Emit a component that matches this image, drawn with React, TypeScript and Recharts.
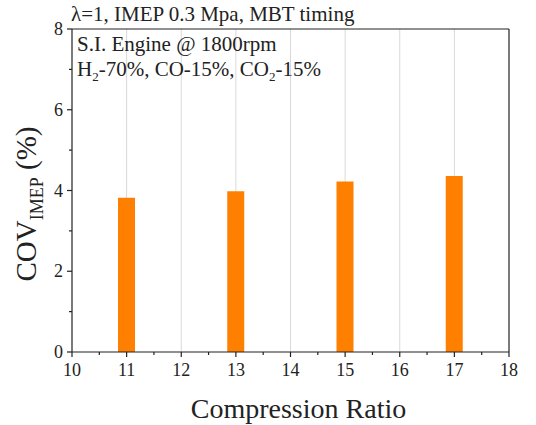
import { BarChart, Bar, XAxis, YAxis, ReferenceLine, Label, CartesianGrid } from 'recharts';

const ratios = [11, 13, 15, 17];
const covValues = [3.82, 3.98, 4.22, 4.36];
const xDomain = [10, 18];
const xTicks = [10, 10.5, 11, 11.5, 12, 12.5, 13, 13.5, 14, 14.5, 15, 15.5, 16, 16.5, 17, 17.5, 18];
const yTicks = [0, 1, 2, 3, 4, 5, 6, 7, 8];
const gridValues = [11, 12, 13, 14, 15, 16, 17];

const data = ratios.map((r, i) => ({ ratio: r, cov: covValues[i] }));

const font = 'Liberation Serif, serif';
const ink = '#222';
const txt = { fontFamily: font };

const XTick = (props: any) => {
  const { x, y, payload } = props;
  const major = Number.isInteger(payload.value);
  return (
    <g>
      <line x1={x} x2={x} y1={y} y2={y + (major ? 5 : 3)} stroke={ink} strokeWidth={1.2} />
      {major && (
        <text x={x} y={y + 24} textAnchor="middle" style={txt} fontSize={18} fill={ink}>
          {payload.value}
        </text>
      )}
    </g>
  );
};

const YTick = (props: any) => {
  const { x, y, payload } = props;
  const major = payload.value % 2 === 0;
  return (
    <g>
      <line x1={x} x2={x - (major ? 5 : 3)} y1={y} y2={y} stroke={ink} strokeWidth={1.2} />
      {major && (
        <text x={x - 9} y={y + 6} textAnchor="end" style={txt} fontSize={18} fill={ink}>
          {payload.value}
        </text>
      )}
    </g>
  );
};

const YLabel = () => (
  <text
    transform="translate(36, 204) rotate(-90)"
    textAnchor="middle"
    style={txt}
    fontSize={29}
    fill={ink}
  >
    COV
    <tspan fontSize={18} dy={7}>IMEP</tspan>
    <tspan dy={-7}> (%)</tspan>
  </text>
);

// grid only at integer ratios, drawn behind the bars
const gridX = (args: any) => {
  const { xAxis, offset } = args;
  if (xAxis && typeof xAxis.scale === 'function') return gridValues.map((g) => xAxis.scale(g));
  return gridValues.map(
    (g) => offset.left + ((g - xDomain[0]) / (xDomain[1] - xDomain[0])) * offset.width
  );
};

export default function App() {
  return (
    <div style={{ position: 'absolute', left: 0, top: 0, background: '#fff', fontFamily: font }}>
      <BarChart
        width={536}
        height={425}
        data={data}
        margin={{ top: 29, right: 27, left: 0, bottom: 0 }}
        style={txt}
      >
        <CartesianGrid horizontal={false} stroke="#d9d9d9" verticalCoordinatesGenerator={gridX} />
        <XAxis
          dataKey="ratio"
          type="number"
          domain={xDomain}
          ticks={xTicks}
          interval={0}
          tickSize={0}
          tickMargin={0}
          tickLine={false}
          tick={<XTick />}
          height={73}
          stroke={ink}
          strokeWidth={1.2}
          allowDataOverflow
        >
          <Label
            value="Compression Ratio"
            position="insideBottom"
            offset={7}
            dx={8}
            style={txt}
            fontSize={28}
            fill={ink}
          />
        </XAxis>
        <YAxis
          type="number"
          domain={[0, 8]}
          ticks={yTicks}
          interval={0}
          tickSize={0}
          tickMargin={0}
          tickLine={false}
          tick={<YTick />}
          width={72}
          stroke={ink}
          strokeWidth={1.2}
          label={<YLabel />}
        />
        <ReferenceLine y={8} stroke={ink} strokeWidth={1.2} />
        <ReferenceLine x={18} stroke={ink} strokeWidth={1.2} />
        <Bar dataKey="cov" fill="#ff8000" barSize={17} isAnimationActive={false} />
        <text x={71} y={21} style={txt} fontSize={21} fill={ink}>
          λ=1, IMEP 0.3 Mpa, MBT timing
        </text>
        <text x={77} y={51} style={txt} fontSize={21} fill={ink}>
          S.I. Engine @ 1800rpm
        </text>
        <text x={77} y={76} style={txt} fontSize={21} fill={ink}>
          H<tspan fontSize={13} dy={5}>2</tspan>
          <tspan dy={-5}>-70%, CO-15%, CO</tspan>
          <tspan fontSize={13} dy={5}>2</tspan>
          <tspan dy={-5}>-15%</tspan>
        </text>
      </BarChart>
    </div>
  );
}
